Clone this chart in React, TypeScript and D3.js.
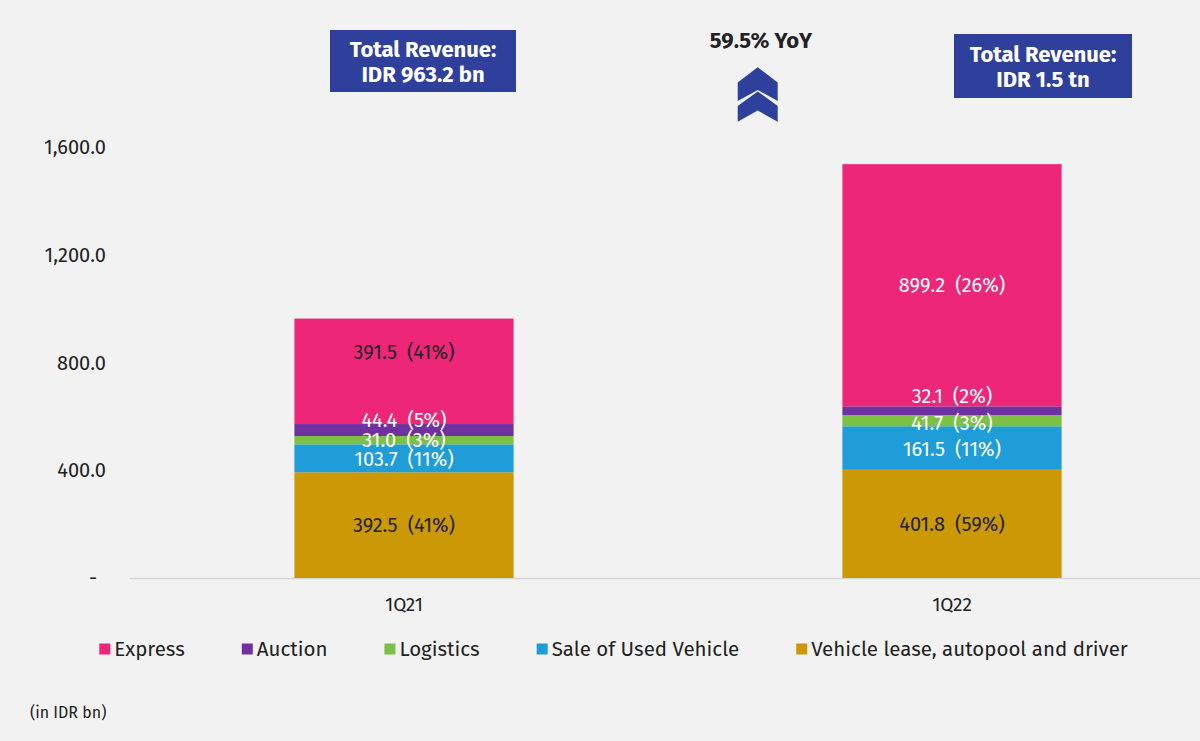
import React, { useEffect, useRef } from "react";
import * as d3 from "d3";

const categories = ["1Q21", "1Q22"];
const seriesNames = ["Vehicle lease, autopool and driver", "Sale of Used Vehicle", "Logistics", "Auction", "Express"];
const leaseValues = [392.5, 401.8];
const saleValues = [103.7, 161.5];
const logisticsValues = [31.0, 41.7];
const auctionValues = [44.4, 32.1];
const expressValues = [391.5, 899.2];
const leasePct = ["41%", "59%"];
const salePct = ["11%", "11%"];
const logisticsPct = ["3%", "3%"];
const auctionPct = ["5%", "2%"];
const expressPct = ["41%", "26%"];
const yTicks = [0, 400, 800, 1200, 1600];
const legendOrder = ["Express", "Auction", "Logistics", "Sale of Used Vehicle", "Vehicle lease, autopool and driver"];
const totals = ["IDR 963.2 bn", "IDR 1.5 tn"];
const yoyLabel = "59.5% YoY";
const unitNote = "(in IDR bn)";

const COLORS: Record<string, string> = {
  Express: "#ee2677",
  Auction: "#7030a0",
  Logistics: "#7cc045",
  "Sale of Used Vehicle": "#1f9dd8",
  "Vehicle lease, autopool and driver": "#cc9906",
};
const TEXT_COLORS: Record<string, string[]> = {
  Express: ["#222", "#fff"],
  Auction: ["#fff", "#fff"],
  Logistics: ["#fff", "#fff"],
  "Sale of Used Vehicle": ["#fff", "#fff"],
  "Vehicle lease, autopool and driver": ["#222", "#222"],
};
// visual label nudges (px), per series per bar
const LABEL_NUDGE: Record<string, number[]> = {
  Express: [-19, 0],
  Auction: [-10, -15],
  Logistics: [0, 2],
  "Sale of Used Vehicle": [1, 1],
  "Vehicle lease, autopool and driver": [0, 0],
};

const FONT = "'Fira Sans', 'Noto Sans', 'Open Sans', sans-serif";
const NAVY = "#2f3f9c";

export default function App() {
  const ref = useRef<SVGSVGElement>(null);
  useEffect(() => {
    document.body.style.margin = "0";
    document.body.style.background = "#f2f2f2";
    const svg = d3.select(ref.current!);
    svg.selectAll("*").remove();
    const W = 1200, H = 741;
    svg.append("rect").attr("width", W).attr("height", H).attr("fill", "#f2f2f2");

    const valuesBySeries: Record<string, number[]> = {
      "Vehicle lease, autopool and driver": leaseValues,
      "Sale of Used Vehicle": saleValues,
      Logistics: logisticsValues,
      Auction: auctionValues,
      Express: expressValues,
    };
    const pctBySeries: Record<string, string[]> = {
      "Vehicle lease, autopool and driver": leasePct,
      "Sale of Used Vehicle": salePct,
      Logistics: logisticsPct,
      Auction: auctionPct,
      Express: expressPct,
    };
    const table = categories.map((c, i) => {
      const row: any = { cat: c };
      seriesNames.forEach((s) => (row[s] = valuesBySeries[s][i]));
      return row;
    });
    const stacked = d3.stack<any>().keys(seriesNames)(table);

    const y = d3.scaleLinear().domain([0, 1600]).range([578, 147]);
    const x = d3.scaleBand().domain(categories).range([130, 1226]).paddingInner(0.6).paddingOuter(0.3);

    // baseline
    svg.append("line").attr("x1", 130).attr("x2", 1200).attr("y1", y(0) + 0.5).attr("y2", y(0) + 0.5)
      .attr("stroke", "#d6d6d6").attr("stroke-width", 1.5);

    // y axis labels
    svg.append("g").selectAll("text").data(yTicks).join("text")
      .attr("x", (d) => (d === 0 ? 97 : 106))
      .attr("y", (d) => y(d))
      .attr("dy", "0.35em")
      .attr("text-anchor", "end")
      .attr("font-family", FONT).attr("font-size", 20).attr("fill", "#222")
      .text((d) => (d === 0 ? "-" : d3.format(",.1f")(d)));

    // bars
    stacked.forEach((layer) => {
      const key = layer.key;
      svg.append("g").selectAll("rect").data(layer).join("rect")
        .attr("x", (d: any) => x(d.data.cat)!)
        .attr("width", x.bandwidth())
        .attr("y", (d: any) => y(d[1]))
        .attr("height", (d: any) => y(d[0]) - y(d[1]))
        .attr("fill", COLORS[key]);
    });
    stacked.forEach((layer) => {
      const key = layer.key;
      svg.append("g").selectAll("text").data(layer).join("text")
        .attr("x", (d: any) => x(d.data.cat)! + x.bandwidth() / 2)
        .attr("y", (d: any, i) => (y(d[0]) + y(d[1])) / 2 + LABEL_NUDGE[key][i])
        .attr("dy", "0.35em")
        .attr("text-anchor", "middle")
        .attr("font-family", FONT).attr("font-size", 20)
        .attr("fill", (_d: any, i) => TEXT_COLORS[key][i])
        .text((d: any, i) => `${d3.format(".1f")(d[1] - d[0])}\u2002(${pctBySeries[key][i]})`);
    });

    // x labels
    svg.append("g").selectAll("text").data(categories).join("text")
      .attr("x", (d) => x(d)! + x.bandwidth() / 2)
      .attr("y", 604).attr("dy", "0.35em")
      .attr("text-anchor", "middle")
      .attr("font-family", FONT).attr("font-size", 19).attr("fill", "#222")
      .text((d) => d);

    // legend
    const lg = svg.append("g");
    const items = legendOrder.map((name) => {
      const g = lg.append("g");
      g.append("rect").attr("width", 11).attr("height", 11).attr("y", -5.5).attr("fill", COLORS[name]);
      const t = g.append("text").attr("x", 15).attr("dy", "0.35em")
        .attr("font-family", FONT).attr("font-size", 20.5).attr("fill", "#222").text(name);
      const w = 15 + (t.node() as SVGTextElement).getComputedTextLength();
      return { g, w };
    });
    const gap = 57;
    const total = d3.sum(items, (d) => d.w) + gap * (items.length - 1);
    let cx = 613.5 - total / 2;
    items.forEach((it) => {
      it.g.attr("transform", `translate(${cx},649)`);
      cx += it.w + gap;
    });

    // unit note
    svg.append("text").attr("x", 30).attr("y", 712).attr("dy", "0.35em")
      .attr("font-family", FONT).attr("font-size", 16).attr("fill", "#222").text(unitNote);

    // total revenue boxes
    const boxes = [
      { x: 330, y: 30, w: 186, h: 62 },
      { x: 954, y: 34, w: 178, h: 64 },
    ];
    boxes.forEach((b, i) => {
      svg.append("rect").attr("x", b.x).attr("y", b.y).attr("width", b.w).attr("height", b.h).attr("fill", NAVY);
      const t = svg.append("text").attr("text-anchor", "middle").attr("font-family", FONT)
        .attr("font-weight", 700).attr("font-size", 22).attr("fill", "#fff");
      t.append("tspan").attr("x", b.x + b.w / 2).attr("y", b.y + b.h / 2 - 12).attr("dy", "0.35em").text("Total Revenue:");
      t.append("tspan").attr("x", b.x + b.w / 2).attr("y", b.y + b.h / 2 + 13).attr("dy", "0.35em").text(totals[i]);
    });

    // YoY
    svg.append("text").attr("x", 761).attr("y", 40).attr("dy", "0.35em").attr("text-anchor", "middle")
      .attr("font-family", FONT).attr("font-weight", 700).attr("font-size", 22).attr("fill", "#222").text(yoyLabel);
    const cxv = 757.7, l = 737.7, r = 777.7;
    svg.append("path").attr("fill", NAVY)
      .attr("d", `M${l},82.5 L${cxv},67.3 L${r},82.5 L${r},101 L${cxv},90 L${l},101 Z`);
    svg.append("path").attr("fill", NAVY)
      .attr("d", `M${l},106 L${cxv},91.5 L${r},106 L${r},121.7 L${cxv},110.5 L${l},121.7 Z`);
  }, []);
  return <svg ref={ref} width={1200} height={741} style={{ display: "block" }} />;
}
